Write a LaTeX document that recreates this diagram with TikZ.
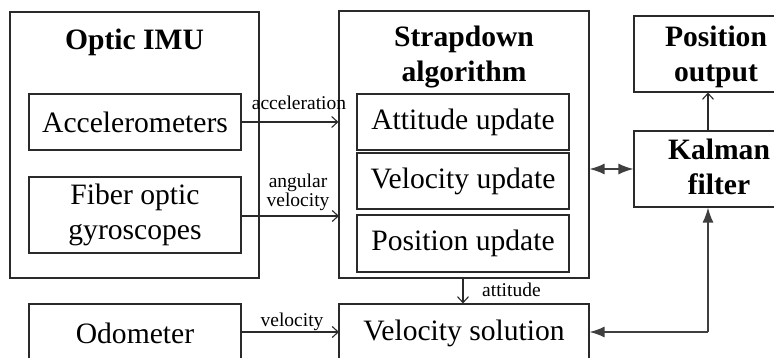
\documentclass[tikz,border=0pt]{standalone}
\usepackage{fontspec}
\setmainfont{Liberation Serif}
\usetikzlibrary{arrows.meta}
\newcommand{\bigtxt}{\fontsize{29.6}{35}\selectfont}
\newcommand{\smalltxt}{\fontsize{19.5}{19}\selectfont}
\definecolor{lc}{HTML}{2A2A2A}
\tikzset{
  frame/.style={draw=lc, line width=1.1pt, inner sep=0pt},
  boxnode/.style={draw=lc, line width=1.1pt, inner sep=0pt, font=\bigtxt, align=center},
  title/.style={font=\bigtxt\bfseries, align=center, inner sep=0pt},
  lab/.style={font=\smalltxt, inner sep=0pt, align=center},
  thin/.style={draw=lc, line width=1.1pt, -{Straight Barb[length=6pt,width=11pt,line width=1.1pt]}},
  thick/.style={draw=lc!90, line width=1.5pt, {Latex[length=15pt,width=11pt]}-{Latex[length=15pt,width=11pt]}},
  thickone/.style={draw=lc!90, line width=1.5pt, -{Latex[length=15pt,width=11pt]}},
}
\begin{document}
\begin{tikzpicture}[x=1pt,y=-1pt]
\useasboundingbox (0,0) rectangle (774,358);
\clip (0,0) rectangle (774,358);
% Optic IMU frame
\node[frame, minimum width=249pt, minimum height=266pt] (imu) at (134.5,145) {};
\node[title] (imut) at (134.5,42) {Optic IMU};
\node[boxnode, minimum width=212pt, minimum height=56pt] (acc) at (135,122) {Accelerometers};
\node[boxnode, minimum width=212pt, minimum height=76pt] (gyro) at (135,215) {Fiber optic\\gyroscopes};
\node[boxnode, minimum width=212pt, minimum height=58pt] (odo) at (135,333) {Odometer};
% Strapdown frame
\node[frame, minimum width=250pt, minimum height=267pt] (sd) at (464,144.5) {};
\node[title] (sdt) at (464,57) {Strapdown\\algorithm};
\node[boxnode, minimum width=212pt, minimum height=56pt] (att) at (463,122) {Attitude update};
\node[boxnode, minimum width=212pt, minimum height=56pt] (vel) at (463,181) {Velocity update};
\node[boxnode, minimum width=212pt, minimum height=57pt] (pos) at (463,243.5) {Position update};
\node[boxnode, minimum width=250pt, minimum height=58pt] (vsol) at (464,333) {Velocity solution};
% right column
\node[frame, minimum width=164pt, minimum height=76pt] (pout) at (716,54) {};
\node[title] (poutt) at (716,57) {Position\\output};
\node[frame, minimum width=164pt, minimum height=76pt] (kf) at (716,169) {};
\node[title] (kft) at (719,167) {Kalman\\filter};
% connectors
\coordinate (gyroend) at (339,216);
\coordinate (odoend) at (339,332);
\draw[thin] (acc.east) -- (sd.west |- acc.east);
\draw[thin] (gyro.east |- gyroend) -- (gyroend);
\draw[thin] (odo.east |- odoend) -- (odoend);
\node[lab, anchor=base] (la) at (299,110) {acceleration};
\node[lab, anchor=base] (lb1) at (298,188) {angular};
\node[lab, anchor=base] (lb2) at (298,206.5) {velocity};
\node[lab, anchor=base] (lc1) at (292,326) {velocity};
\coordinate (attstart) at (463,278);
\draw[thin] (attstart) -- (vsol.north -| attstart);
\node[lab, anchor=base west] (ld) at (482,297) {attitude};
\coordinate (dbl) at (600,169);
\draw[thick] (sd.east |- dbl) -- (kf.west |- dbl);
\coordinate (corner) at (708,332);
\draw[thickone] (corner) -- (kf.south -| corner);
\draw[thickone] (corner) -- (vsol.east |- corner);
\draw[thin] (kf.north -| corner) -- (pout.south -| corner);
\end{tikzpicture}
\end{document}
